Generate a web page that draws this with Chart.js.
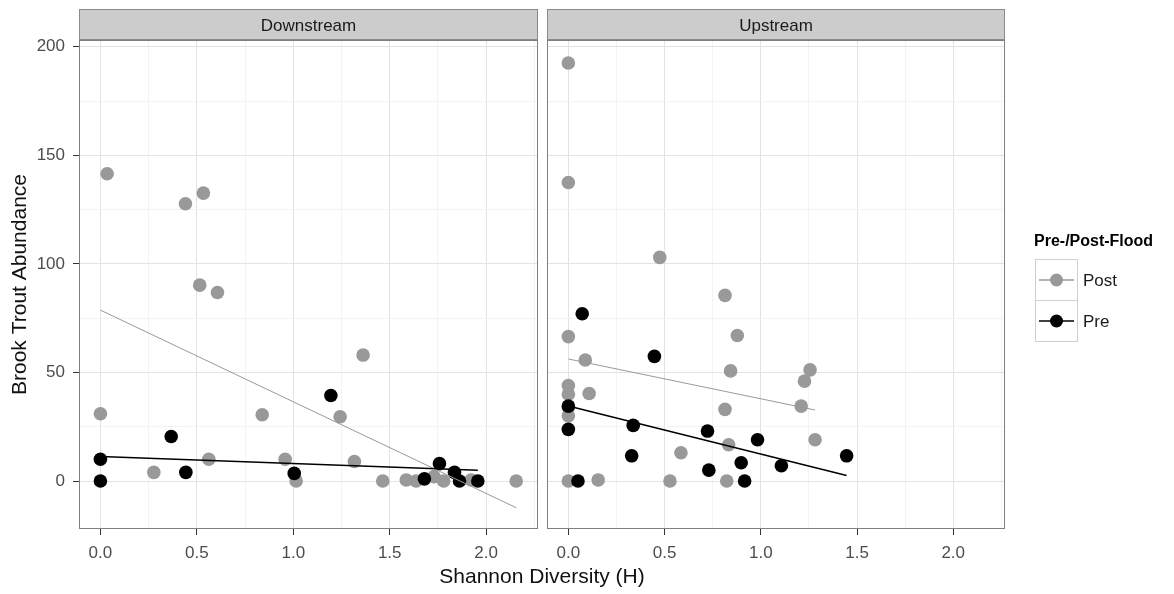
<!DOCTYPE html>
<html>
<head>
<meta charset="utf-8">
<script src="https://cdn.jsdelivr.net/npm/chart.js@4.4.0/dist/chart.umd.min.js"></script>
<style>
body { margin: 0; background: #fff; }
#wrap { position: relative; width: 1174px; height: 594px; font-family: "Liberation Sans", Arial, sans-serif; }
.panel { position: absolute; top: 0; height: 594px; }
#xtitle { position: absolute; left: 0; width: 1084px; top: 564px; text-align: center; font-size: 21px; color: #111; }
</style>
</head>
<body>
<div id="wrap">
  <div class="panel" style="left:0;width:545px"><canvas id="down"></canvas></div>
  <div class="panel" style="left:540px;width:634px"><canvas id="up"></canvas></div>
  <div id="xtitle">Shannon Diversity (H)</div>
</div>
<script>
// axis ranges and ticks (shared by both facets)
var xMin = -0.111, xMax = 2.269;
var yMin = -22.1, yMax = 203.1;
var xTicks = [0, 0.25, 0.5, 0.75, 1, 1.25, 1.5, 1.75, 2, 2.25];
var yTicks = [0, 25, 50, 75, 100, 125, 150, 175, 200];

var facets = ['Downstream', 'Upstream'];
var groups = ['Post', 'Pre'];
var groupColors = ['#999999', '#000000'];

// Downstream, [Shannon H, abundance]
var downPost = [[0.035,141.5],[0.534,132.6],[0.441,127.7],[0.515,90.2],[0.607,86.8],[0,31],[0.839,30.5],[1.362,58],
  [1.243,29.6],[0.277,4],[0.562,10],[0.958,10],[1.015,0],[1.317,9],[1.464,0],[1.586,0.5],[1.637,0],[1.73,2],
  [1.78,0],[1.923,0.5],[2.156,0]];
var downPre = [[0,10],[0,0],[0.367,20.5],[0.443,4],[1.195,39.4],[1.005,3.5],[1.68,1],[1.758,8],[1.836,4],
  [1.862,0],[1.957,0]];
// Upstream
var upPost = [[0,192.5],[0,137.5],[0.475,103],[0.814,85.5],[0.878,67],[0,66.5],[0.088,55.7],[0.843,50.7],
  [1.256,51.2],[1.227,46],[0,44],[0,40],[0.108,40.3],[0,34],[0,30],[1.21,34.5],[0.814,33],[1.282,19],
  [0.833,16.7],[0.585,13],[0,0],[0.155,0.5],[0.528,0],[0.823,0]];
var upPre = [[0.072,77],[0.447,57.4],[0,34.5],[0,23.8],[0.337,25.6],[0.723,23],[0.983,19],[0.329,11.6],
  [1.446,11.6],[0.898,8.4],[0.73,5],[1.107,7],[0.05,0],[0.916,0]];

// fitted lines (start / end)
var downPostFit = [[0,78.7],[2.156,-12.3]];
var downPreFit = [[0,11.3],[1.957,5]];
var upPostFit = [[0,56.2],[1.282,32.7]];
var upPreFit = [[0,34.5],[1.446,2.5]];

var FONT = '"Liberation Sans", Arial, sans-serif';

function pts(arr) {
  return arr.map(function (p) { return { x: p[0], y: p[1] }; });
}

function isMajor(v, step) {
  var r = v / step;
  return Math.abs(r - Math.round(r)) < 1e-6;
}

var facetPlugin = {
  id: 'facet',
  afterDraw: function (chart) {
    var ctx = chart.ctx, a = chart.chartArea;
    var w = a.right - a.left, h = a.bottom - a.top;
    ctx.save();
    // strip
    ctx.fillStyle = '#cccccc';
    ctx.fillRect(a.left, 9, w, 30);
    ctx.strokeStyle = '#8a8a8a';
    ctx.lineWidth = 1;
    ctx.strokeRect(a.left + 0.5, 9.5, w - 1, 30);
    ctx.fillStyle = '#1a1a1a';
    ctx.font = '17px ' + FONT;
    ctx.textAlign = 'center';
    ctx.textBaseline = 'middle';
    ctx.fillText(chart.options.plugins.facet.label, a.left + w / 2, 26);
    // panel border
    ctx.strokeStyle = '#7f7f7f';
    ctx.strokeRect(a.left + 0.5, a.top + 0.5, w - 1, h - 1);
    ctx.restore();
  }
};

var legendPlugin = {
  id: 'floodLegend',
  afterDraw: function (chart) {
    var ctx = chart.ctx;
    var x0 = 1035 - 540;
    ctx.save();
    ctx.fillStyle = '#000';
    ctx.font = 'bold 16px ' + FONT;
    ctx.textAlign = 'left';
    ctx.textBaseline = 'middle';
    ctx.fillText('Pre-/Post-Flood', x0 - 1, 242);
    for (var i = 0; i < groups.length; i++) {
      var top = 259 + i * 41;
      ctx.strokeStyle = '#d0d0d0';
      ctx.lineWidth = 1;
      ctx.strokeRect(x0 + 0.5, top + 0.5, 42, 41);
      var cy = top + 21;
      ctx.strokeStyle = groupColors[i];
      ctx.lineWidth = 1.5;
      ctx.beginPath();
      ctx.moveTo(x0 + 4, cy);
      ctx.lineTo(x0 + 39, cy);
      ctx.stroke();
      ctx.fillStyle = groupColors[i];
      ctx.beginPath();
      ctx.arc(x0 + 21.5, cy, 6.5, 0, Math.PI * 2);
      ctx.fill();
      ctx.fillStyle = '#1a1a1a';
      ctx.font = '17px ' + FONT;
      ctx.fillText(groups[i], x0 + 48, cy + 1);
    }
    ctx.restore();
  }
};

function makeChart(id, facetIdx, post, pre, postFit, preFit, isLeft) {
  var gridX = {
    color: function (c) { return c.tick && isMajor(c.tick.value, 0.5) ? '#e3e3e3' : '#f3f3f3'; },
    tickColor: function (c) { return c.tick && isMajor(c.tick.value, 0.5) ? '#333333' : 'rgba(0,0,0,0)'; },
    tickLength: 6,
    lineWidth: 1
  };
  var gridY = {
    color: function (c) { return c.tick && isMajor(c.tick.value, 50) ? '#e3e3e3' : '#f3f3f3'; },
    tickColor: function (c) { return c.tick && isMajor(c.tick.value, 50) ? '#333333' : 'rgba(0,0,0,0)'; },
    tickLength: 6,
    drawTicks: isLeft,
    lineWidth: 1
  };
  return new Chart(document.getElementById(id), {
    type: 'scatter',
    data: {
      datasets: [
        { label: groups[0], data: pts(post), backgroundColor: groupColors[0], pointRadius: 6.8, pointBorderWidth: 0, order: 3 },
        { label: groups[1], data: pts(pre), backgroundColor: groupColors[1], pointRadius: 6.8, pointBorderWidth: 0, order: 2 },
        { type: 'line', data: pts(postFit), borderColor: groupColors[0], borderWidth: 1, pointRadius: 0, fill: false, order: 1 },
        { type: 'line', data: pts(preFit), borderColor: groupColors[1], borderWidth: 1.5, pointRadius: 0, fill: false, order: 0 }
      ]
    },
    options: {
      responsive: true,
      maintainAspectRatio: false,
      animation: false,
      events: [],
      layout: { padding: { top: 40, right: isLeft ? 7 : 169, bottom: 0, left: 0 } },
      plugins: {
        legend: { display: false },
        tooltip: { enabled: false },
        facet: { label: facets[facetIdx] }
      },
      scales: {
        x: {
          type: 'linear',
          min: xMin, max: xMax,
          border: { display: false },
          grid: gridX,
          afterBuildTicks: function (s) { s.ticks = xTicks.map(function (v) { return { value: v }; }); },
          afterFit: function (s) { s.height = 65; },
          ticks: {
            autoSkip: false, maxRotation: 0, padding: 8,
            color: '#4d4d4d', font: { family: FONT, size: 17 },
            callback: function (v) { return isMajor(v, 0.5) ? v.toFixed(1) : ''; }
          }
        },
        y: {
          type: 'linear',
          min: yMin, max: yMax,
          border: { display: false },
          grid: gridY,
          afterBuildTicks: function (s) { s.ticks = yTicks.map(function (v) { return { value: v }; }); },
          afterFit: function (s) { s.width = isLeft ? 79 : 7; },
          title: {
            display: isLeft, text: 'Brook Trout Abundance', color: '#111',
            font: { family: FONT, size: 21 }, padding: { top: 8, bottom: 0 }
          },
          ticks: {
            display: isLeft,
            autoSkip: false, padding: 8,
            color: '#4d4d4d', font: { family: FONT, size: 17 },
            callback: function (v) { return isMajor(v, 50) ? String(v) : ''; }
          }
        }
      }
    },
    plugins: isLeft ? [facetPlugin] : [facetPlugin, legendPlugin]
  });
}

makeChart('down', 0, downPost, downPre, downPostFit, downPreFit, true);
makeChart('up', 1, upPost, upPre, upPostFit, upPreFit, false);
</script>
</body>
</html>
